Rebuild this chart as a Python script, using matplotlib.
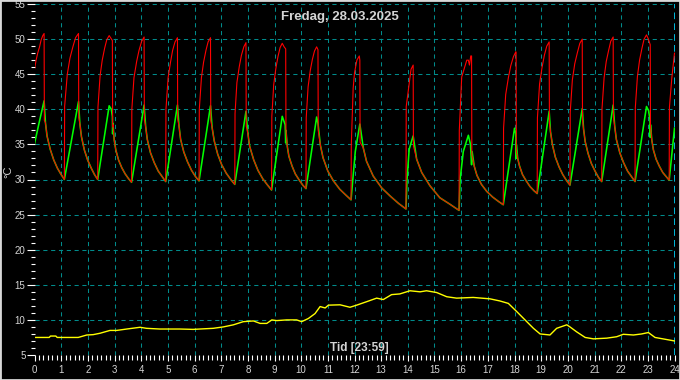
import numpy as np
import matplotlib
matplotlib.use("Agg")
import matplotlib.pyplot as plt
from matplotlib.ticker import MultipleLocator
from matplotlib.patches import Rectangle

# Texts and ticks
title = "Fredag, 28.03.2025"
x_label = "Tid [23:59]"
y_label = "°C"
hour_ticks = list(range(0, 25))
temp_ticks = list(range(5, 60, 5))

# (hour, °C)
red_points = [
    (0.00, 45.7), (0.06, 47.0), (0.12, 48.0), (0.19, 48.9), (0.25, 49.9), (0.31, 50.5), (0.36, 50.8),
    (0.37, 38.4), (0.41, 38.1), (0.47, 36.2), (0.59, 34.3), (0.72, 32.8), (0.86, 31.6), (1.00, 30.7), (1.12, 30.0),
    (1.13, 40.4), (1.23, 45.0), (1.33, 47.3), (1.44, 48.9), (1.54, 50.2), (1.65, 50.8),
    (1.66, 38.8), (1.70, 38.0), (1.76, 36.1), (1.87, 34.2), (1.99, 32.8), (2.13, 31.6), (2.25, 30.7), (2.37, 30.0),
    (2.38, 40.3), (2.46, 44.8), (2.54, 47.0), (2.63, 48.7), (2.71, 49.9), (2.80, 50.5), (2.92, 49.8),
    (2.93, 37.5), (2.94, 37.8), (2.99, 35.6), (3.05, 34.2), (3.15, 32.8), (3.27, 31.7), (3.40, 30.8), (3.53, 30.1), (3.64, 29.6),
    (3.65, 40.0), (3.73, 44.5), (3.83, 46.8), (3.92, 48.4), (4.02, 49.7), (4.11, 50.3),
    (4.12, 38.5), (4.17, 37.5), (4.23, 35.7), (4.35, 33.8), (4.49, 32.4), (4.64, 31.2), (4.79, 30.4), (4.92, 29.7),
    (4.93, 40.0), (5.01, 44.5), (5.10, 46.7), (5.18, 48.4), (5.27, 49.6), (5.36, 50.2),
    (5.37, 38.6), (5.42, 37.6), (5.48, 35.7), (5.60, 33.9), (5.74, 32.5), (5.89, 31.3), (6.04, 30.4), (6.17, 29.8),
    (6.18, 40.0), (6.26, 44.5), (6.34, 46.7), (6.43, 48.4), (6.51, 49.6), (6.60, 50.2),
    (6.61, 38.4), (6.66, 37.4), (6.74, 35.5), (6.87, 33.6), (7.02, 32.1), (7.19, 30.9), (7.36, 30.0), (7.51, 29.3),
    (7.52, 39.4), (7.59, 43.8), (7.68, 46.1), (7.76, 47.7), (7.85, 48.9), (7.93, 49.5),
    (7.94, 37.6), (8.00, 36.6), (8.07, 34.7), (8.22, 32.8), (8.38, 31.3), (8.56, 30.1), (8.74, 29.2), (8.89, 28.5),
    (8.90, 39.0), (8.97, 43.5), (9.05, 45.8), (9.13, 47.5), (9.21, 48.8), (9.29, 49.4), (9.36, 48.9), (9.42, 48.6),
    (9.43, 37.0), (9.48, 34.7), (9.54, 33.3), (9.66, 31.9), (9.78, 30.8), (9.93, 29.9), (10.06, 29.2), (10.18, 28.7),
    (10.19, 38.8), (10.26, 43.2), (10.34, 45.5), (10.42, 47.1), (10.50, 48.3), (10.58, 48.9), (10.63, 48.5),
    (10.64, 37.0), (10.72, 34.9), (10.82, 33.1), (11.00, 31.2), (11.21, 29.8), (11.45, 28.6), (11.67, 27.8), (11.87, 27.1),
    (11.88, 35.0), (11.95, 43.0), (12.00, 45.2), (12.09, 47.0), (12.18, 47.6), (12.20, 47.0),
    (12.21, 35.3), (12.33, 34.5), (12.45, 32.6), (12.70, 30.5), (13.02, 28.8), (13.35, 27.6), (13.65, 26.6), (13.93, 25.8),
    (13.94, 40.4), (14.04, 43.3), (14.12, 45.7), (14.20, 46.3),
    (14.21, 34.8), (14.33, 32.9), (14.52, 31.0), (14.83, 29.1), (15.20, 27.4), (15.57, 26.5), (15.92, 25.6),
    (15.93, 37.0), (16.02, 44.6), (16.14, 46.1), (16.21, 47.0), (16.27, 47.0), (16.31, 46.3), (16.36, 47.6), (16.39, 47.6),
    (16.40, 33.5), (16.49, 31.9), (16.59, 30.6), (16.76, 29.3), (16.96, 28.3), (17.18, 27.5), (17.39, 26.9), (17.58, 26.4),
    (17.59, 37.3), (17.67, 42.1), (17.77, 44.5), (17.86, 46.2), (17.96, 47.5), (18.05, 48.2), (18.06, 48.0),
    (18.07, 34.0), (18.12, 33.0), (18.19, 31.9), (18.30, 30.7), (18.44, 29.8), (18.58, 29.0), (18.73, 28.4), (18.85, 28.0),
    (18.86, 38.8), (18.94, 43.6), (19.03, 45.9), (19.12, 47.7), (19.21, 49.0), (19.30, 49.6),
    (19.31, 38.0), (19.35, 36.8), (19.42, 35.0), (19.53, 33.2), (19.67, 31.8), (19.81, 30.7), (19.96, 29.8), (20.08, 29.2),
    (20.09, 39.6), (20.17, 44.2), (20.26, 46.5), (20.36, 48.1), (20.45, 49.4), (20.54, 50.0),
    (20.55, 38.5), (20.59, 37.2), (20.65, 35.4), (20.76, 33.7), (20.88, 32.3), (21.02, 31.2), (21.15, 30.3), (21.27, 29.7),
    (21.28, 40.0), (21.36, 44.5), (21.44, 46.8), (21.53, 48.4), (21.61, 49.7), (21.70, 50.3),
    (21.71, 38.8), (21.76, 37.5), (21.82, 35.7), (21.95, 33.8), (22.09, 32.4), (22.24, 31.2), (22.39, 30.4), (22.52, 29.7),
    (22.53, 40.2), (22.61, 44.7), (22.69, 47.0), (22.78, 48.7), (22.86, 50.0), (22.95, 50.6), (23.02, 50.0), (23.09, 49.2),
    (23.10, 37.5), (23.15, 35.6), (23.21, 34.2), (23.31, 32.9), (23.43, 31.9), (23.56, 31.0), (23.69, 30.4), (23.80, 29.9),
    (23.81, 40.3), (23.90, 44.5), (24.00, 48.0),
]

green_points = [
    (0.00, 35.1), (0.18, 38.2), (0.36, 41.2),
    (0.41, 38.1), (0.47, 36.2), (0.59, 34.3), (0.72, 32.8), (0.86, 31.6), (1.00, 30.7), (1.12, 30.0),
    (1.65, 41.1), (1.70, 38.0), (1.76, 36.1), (1.87, 34.2), (1.99, 32.8), (2.13, 31.6), (2.25, 30.7), (2.37, 30.0),
    (2.80, 40.5), (2.88, 40.0), (2.92, 39.0), (2.93, 36.5), (2.94, 38.0),
    (2.99, 35.6), (3.05, 34.2), (3.15, 32.8), (3.27, 31.7), (3.40, 30.8), (3.53, 30.1), (3.64, 29.6),
    (4.11, 40.6), (4.17, 37.5), (4.23, 35.7), (4.35, 33.8), (4.49, 32.4), (4.64, 31.2), (4.79, 30.4), (4.92, 29.7),
    (5.36, 40.6), (5.42, 37.6), (5.48, 35.7), (5.60, 33.9), (5.74, 32.5), (5.89, 31.3), (6.04, 30.4), (6.17, 29.8),
    (6.60, 40.5), (6.66, 37.4), (6.74, 35.5), (6.87, 33.6), (7.02, 32.1), (7.19, 30.9), (7.36, 30.0), (7.51, 29.3),
    (7.93, 39.7), (8.00, 36.6), (8.07, 34.7), (8.22, 32.8), (8.38, 31.3), (8.56, 30.1), (8.74, 29.2), (8.89, 28.5),
    (9.29, 39.0), (9.40, 37.8), (9.42, 35.2), (9.43, 37.0),
    (9.48, 34.7), (9.54, 33.3), (9.66, 31.9), (9.78, 30.8), (9.93, 29.9), (10.06, 29.2), (10.18, 28.7),
    (10.58, 38.9), (10.63, 38.0),
    (10.72, 34.9), (10.82, 33.1), (11.00, 31.2), (11.21, 29.8), (11.45, 28.6), (11.67, 27.8), (11.87, 27.1),
    (12.03, 34.0), (12.20, 37.9),
    (12.33, 34.5), (12.45, 32.6), (12.70, 30.5), (13.02, 28.8), (13.35, 27.6), (13.65, 26.6), (13.93, 25.8),
    (13.97, 30.0), (14.05, 34.3), (14.20, 36.2),
    (14.33, 32.9), (14.52, 31.0), (14.83, 29.1), (15.20, 27.4), (15.57, 26.5), (15.92, 25.6),
    (15.96, 30.0), (16.08, 34.0), (16.27, 36.3), (16.35, 35.0), (16.39, 32.1), (16.41, 34.0),
    (16.49, 31.9), (16.59, 30.6), (16.76, 29.3), (16.96, 28.3), (17.18, 27.5), (17.39, 26.9), (17.58, 26.4),
    (18.00, 37.3), (18.05, 36.5), (18.06, 33.0), (18.07, 35.0),
    (18.12, 33.0), (18.19, 31.9), (18.30, 30.7), (18.44, 29.8), (18.58, 29.0), (18.73, 28.4), (18.85, 28.0),
    (19.30, 39.7), (19.35, 36.8), (19.42, 35.0), (19.53, 33.2), (19.67, 31.8), (19.81, 30.7), (19.96, 29.8), (20.08, 29.2),
    (20.54, 40.1), (20.59, 37.2), (20.65, 35.4), (20.76, 33.7), (20.88, 32.3), (21.02, 31.2), (21.15, 30.3), (21.27, 29.7),
    (21.70, 40.6), (21.76, 37.5), (21.82, 35.7), (21.95, 33.8), (22.09, 32.4), (22.24, 31.2), (22.39, 30.4), (22.52, 29.7),
    (22.95, 40.4), (23.03, 39.8), (23.08, 38.5), (23.09, 36.0), (23.10, 37.8),
    (23.15, 35.6), (23.21, 34.2), (23.31, 32.9), (23.43, 31.9), (23.56, 31.0), (23.69, 30.4), (23.80, 29.9),
    (24.00, 37.3),
]

yellow_points = [
    (0.00, 7.5), (0.55, 7.5), (0.60, 7.7), (0.80, 7.7), (0.85, 7.5), (1.64, 7.5), (1.96, 7.85),
    (2.20, 7.9), (2.46, 8.1), (2.83, 8.5), (3.08, 8.5), (3.46, 8.7), (3.96, 8.95), (4.20, 8.8),
    (4.70, 8.7), (5.45, 8.7), (5.95, 8.65), (6.70, 8.8), (7.08, 9.0), (7.46, 9.3), (7.83, 9.75),
    (8.21, 9.85), (8.46, 9.5), (8.71, 9.5), (8.90, 10.0), (9.08, 9.9), (9.46, 10.0), (9.83, 10.0),
    (10.02, 9.75), (10.27, 10.2), (10.52, 10.9), (10.71, 11.9), (10.90, 11.7), (11.02, 12.1),
    (11.46, 12.15), (11.83, 11.8), (12.08, 12.1), (12.46, 12.6), (12.83, 13.1), (13.08, 12.9),
    (13.39, 13.6), (13.70, 13.7), (14.08, 14.15), (14.46, 14.0), (14.70, 14.15), (15.08, 13.9),
    (15.46, 13.3), (15.83, 13.1), (16.45, 13.2), (17.08, 13.0), (17.45, 12.7), (17.77, 12.35),
    (18.08, 11.2), (18.46, 9.75), (18.71, 8.8), (18.96, 8.0), (19.33, 7.85), (19.58, 8.8),
    (19.96, 9.3), (20.08, 9.0), (20.33, 8.3), (20.65, 7.5), (20.96, 7.3), (21.46, 7.4),
    (21.83, 7.6), (22.08, 7.95), (22.46, 7.85), (22.77, 8.0), (23.02, 8.2), (23.27, 7.5),
    (23.71, 7.2), (24.00, 7.0),
]

GRID = "#008b8b"
NOW = "#00d8ff"
TEXT = "#d4d4d4"
FONT = "Liberation Sans"

fig = plt.figure(figsize=(6.8, 3.8), dpi=100, facecolor="black")
ax = fig.add_axes([34.5 / 680, 25 / 380, 640 / 680, 351 / 380], facecolor="black")

# dashed grid, no line at hour 0 and a brighter marker at 24
for h in hour_ticks[1:-1]:
    ax.axvline(h, color=GRID, lw=0.75, dashes=(4, 3.5), zorder=1)
for v in temp_ticks[1:]:
    ax.axhline(v, color=GRID, lw=0.75, dashes=(4, 3.5), zorder=1)
ax.axvline(24, color=NOW, lw=1.2, dashes=(4, 2.5), zorder=1)

g = np.array(green_points)
r = np.array(red_points)
y = np.array(yellow_points)
ax.plot(g[:, 0], g[:, 1], color="#00ff00", lw=1.15, zorder=3)
ax.plot(r[:, 0], r[:, 1], color="#ff0000", lw=0.8, zorder=4)
ax.plot(y[:, 0], y[:, 1], color="#ffff00", lw=1.0, zorder=3)

ax.set_xlim(0, 24)
ax.set_ylim(5, 55)
for s in ax.spines.values():
    s.set_visible(False)

ax.set_xticks(hour_ticks)
ax.set_yticks(temp_ticks)
ax.xaxis.set_minor_locator(MultipleLocator(1 / 6))
ax.yaxis.set_minor_locator(MultipleLocator(1))
ax.tick_params(which="both", colors="white", labelcolor=TEXT, labelsize=7, width=0.8)
ax.tick_params(axis="y", which="major", length=5.5, pad=1)
ax.tick_params(axis="y", which="minor", length=3)
ax.tick_params(axis="x", which="major", length=4, pad=3.5)
ax.tick_params(axis="x", which="minor", length=3.5)
for lab in ax.get_xticklabels() + ax.get_yticklabels():
    lab.set_family(FONT)

fig.text(340 / 680, 1 - 17 / 380, title, ha="center", va="center", color=TEXT,
         fontsize=9.5, fontweight="bold", family=FONT)
fig.text(359.5 / 680, 1 - 348 / 380, x_label, ha="center", va="center", color=TEXT,
         fontsize=8.5, fontweight="bold", family=FONT)
fig.text(8 / 680, 1 - 172 / 380, y_label, ha="center", va="center", color=TEXT,
         fontsize=8, rotation=90, family=FONT)

fig.patches.append(Rectangle((0, 0), 1, 1, transform=fig.transFigure, fill=False,
                             edgecolor="#d8d8d8", lw=2))

fig.savefig("out.png", dpi=100, facecolor="black")
